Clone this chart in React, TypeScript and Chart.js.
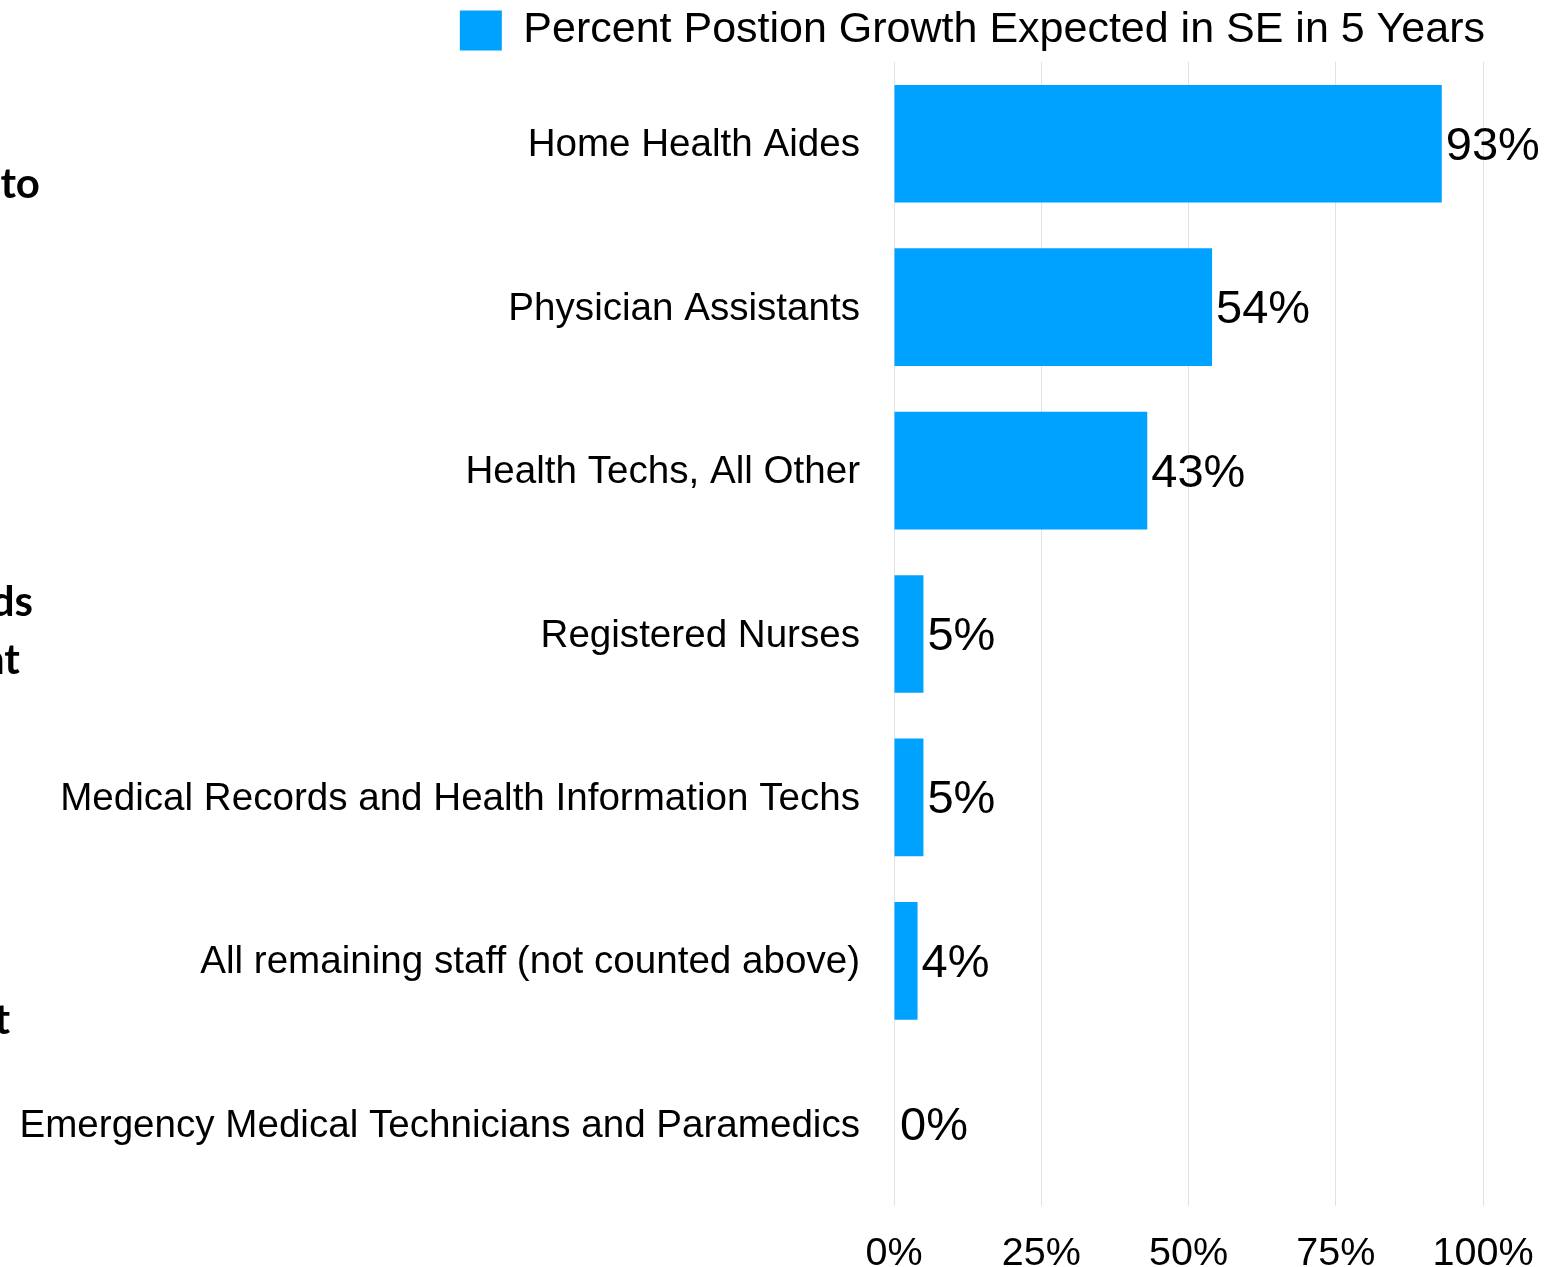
import React, { useEffect, useRef } from "react";
import { Chart, registerables } from "chart.js";

Chart.register(...registerables);

const categories = [
  "Home Health Aides",
  "Physician Assistants",
  "Health Techs, All Other",
  "Registered Nurses",
  "Medical Records and Health Information Techs",
  "All remaining staff (not counted above)",
  "Emergency Medical Technicians and Paramedics",
];
const growthValues = [93, 54, 43, 5, 5, 4, 0];
const seriesLabel = "Percent Postion Growth Expected in SE in 5 Years";
const xTickValues = [0, 25, 50, 75, 100];

const sideFragments = [
  { text: "to", right: 40, top: 157, color: "#000" },
  { text: "n", right: 2, top: 217, color: "#999" },
  { text: "ds", right: 33, top: 575, color: "#000" },
  { text: "nt", right: 20, top: 633, color: "#000" },
  { text: "t", right: 10, top: 993, color: "#000" },
];

const FONT = "'Liberation Sans', Helvetica, Arial, sans-serif";

const valueLabelPlugin = {
  id: "valueLabels",
  afterDatasetsDraw(chart: any) {
    const ctx = chart.ctx;
    const meta = chart.getDatasetMeta(0);
    ctx.save();
    ctx.font = `47px ${FONT}`;
    ctx.fillStyle = "#000";
    ctx.textAlign = "left";
    ctx.textBaseline = "middle";
    meta.data.forEach((bar: any, i: number) => {
      const v = growthValues[i];
      const x = bar.x + (v === 0 ? 6 : 4);
      ctx.fillText(`${v}%`, x, bar.y + 3);
    });
    ctx.restore();
  },
};

export default function App() {
  const canvasRef = useRef<HTMLCanvasElement | null>(null);

  useEffect(() => {
    if (!canvasRef.current) return;
    const chart = new Chart(canvasRef.current, {
      type: "bar",
      data: {
        labels: categories,
        datasets: [
          {
            label: seriesLabel,
            data: growthValues,
            backgroundColor: "#00A2FF",
            borderWidth: 0,
            barPercentage: 0.72,
            categoryPercentage: 1,
          },
        ],
      },
      options: {
        indexAxis: "y",
        animation: false,
        responsive: true,
        maintainAspectRatio: false,
        layout: { padding: { left: 0, right: 66, top: 0, bottom: 0 } },
        plugins: {
          legend: {
            display: true,
            position: "top",
            align: "end",
            labels: {
              boxWidth: 42,
              boxHeight: 40,
              padding: 9,
              color: "#000",
              font: { size: 43, family: FONT },
            },
          },
          tooltip: { enabled: false },
        },
        scales: {
          x: {
            min: 0,
            max: 100,
            afterBuildTicks(scale: any) {
              scale.ticks = xTickValues.map((v) => ({ value: v }));
            },
            afterFit(scale: any) {
              scale.height = 61;
              scale.paddingRight = 77;
            },
            border: { display: false },
            grid: { color: "#e2e2e2", lineWidth: 1, drawTicks: false },
            ticks: {
              padding: 24,
              color: "#000",
              font: { size: 39.5, family: FONT },
              callback: (v: any) => `${v}%`,
            },
          },
          y: {
            afterFit(scale: any) {
              scale.width = 894;
            },
            border: { display: false },
            grid: { display: false, drawTicks: false },
            ticks: {
              padding: 34,
              labelOffset: 2,
              color: "#000",
              font: { size: 38.6, family: FONT },
            },
          },
        },
      },
      plugins: [valueLabelPlugin],
    });
    return () => chart.destroy();
  }, []);

  return (
    <div
      style={{
        position: "absolute",
        left: 0,
        top: 0,
        width: 1560,
        height: 1267,
        overflow: "hidden",
        background: "#fff",
      }}
    >
      {sideFragments.map((f, i) => (
        <div
          key={i}
          style={{
            position: "absolute",
            right: 1560 - f.right,
            top: f.top,
            whiteSpace: "nowrap",
            fontFamily: "Lato, 'Open Sans', sans-serif",
            fontWeight: 700,
            fontSize: 42,
            lineHeight: "50px",
            color: f.color,
          }}
        >
          {f.text}
        </div>
      ))}
      <canvas ref={canvasRef} />
    </div>
  );
}
